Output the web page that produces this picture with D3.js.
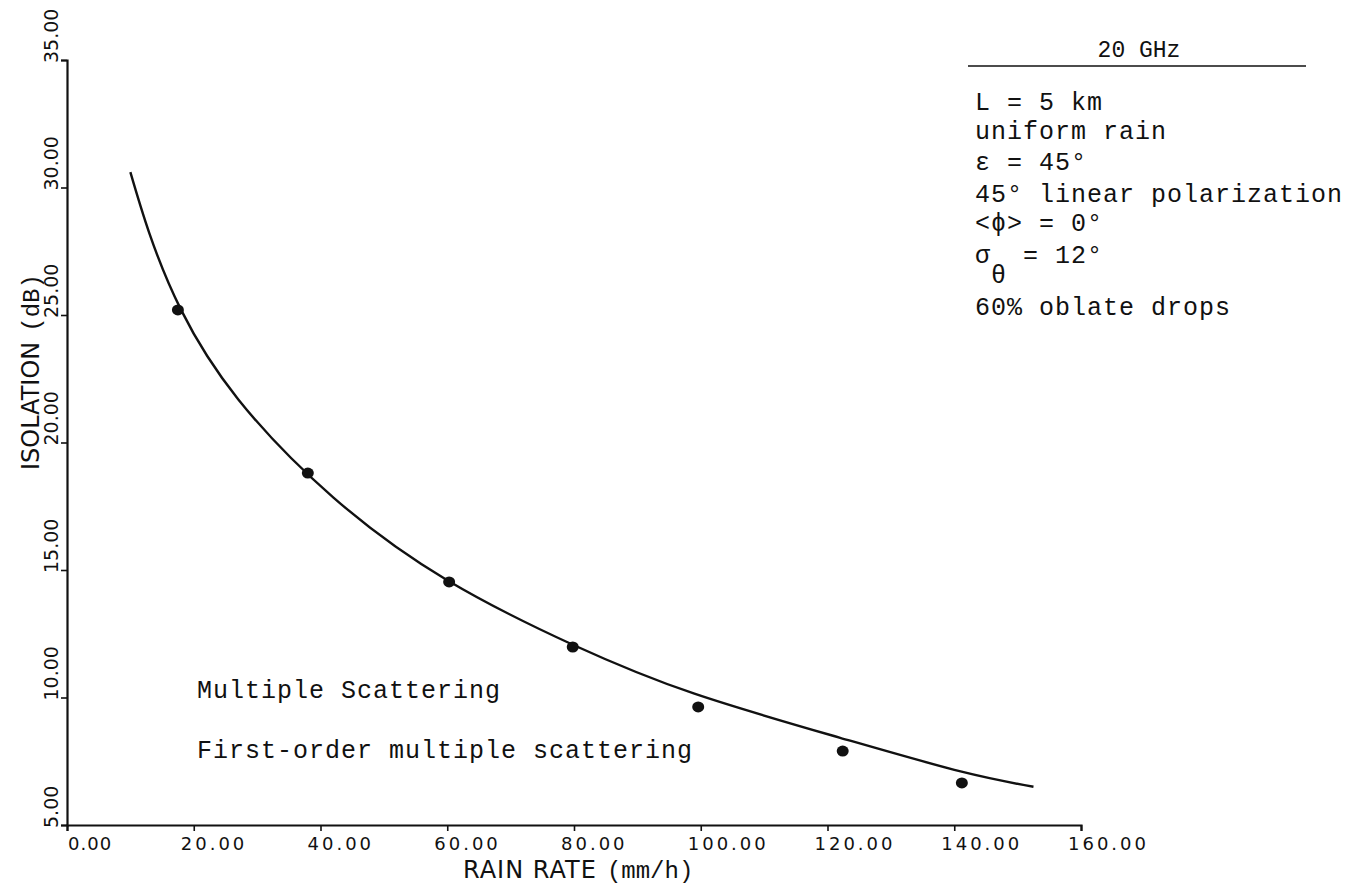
<!DOCTYPE html>
<html>
<head>
<meta charset="utf-8">
<script src="https://cdn.jsdelivr.net/npm/d3@7"></script>
<style>
  body { margin: 0; background: #fff; }
  .plotter { font-family: "DejaVu Sans", sans-serif; fill: #111; }
  .typed { font-family: "Liberation Mono", "DejaVu Sans Mono", monospace; fill: #111; }
</style>
</head>
<body>
<div id="chart"></div>
<script>
// Axis ticks
const xTicks = [0, 20, 40, 60, 80, 100, 120, 140, 160];
const yTicks = [5, 10, 15, 20, 25, 30, 35];

// Fitted curve (rain rate mm/h, isolation dB)
const curveRain = [10, 13, 18, 27, 42, 60, 80, 99, 122, 141, 152.5];
const curveIso  = [30.6, 28.2, 25.2, 21.7, 17.85, 14.6, 12.05, 10.15, 8.42, 7.1, 6.5];

// Computed points (first-order multiple scattering)
const pointRain = [17.5, 38, 60.3, 79.8, 99.6, 122.4, 141.2];
const pointIso  = [25.2, 18.8, 14.53, 11.98, 9.63, 7.9, 6.65];

// Parameter box text
const boxTitle = '20 GHz';
const boxLines = ['L = 5 km', 'uniform rain', 'ε = 45°', '45° linear polarization', '<ϕ> = 0°'];
const lastLine = '60% oblate drops';

const labels = ['Multiple Scattering', 'First-order multiple scattering'];

const width = 1354, height = 886;

const svg = d3.select('#chart')
    .append('svg')
    .attr('width', width)
    .attr('height', height);

const x = d3.scaleLinear().domain([0, 160]).range([67, 1081]);
const y = d3.scaleLinear().domain([5, 35]).range([825, 60]);

// Axes (plain lines with outward ticks, like the plotter output)
const xAxis = svg.append('g')
    .attr('transform', `translate(0,${y(5)})`)
    .call(d3.axisBottom(x).tickValues(xTicks).tickSize(6).tickFormat(''));
const yAxis = svg.append('g')
    .attr('transform', `translate(${x(0)},0)`)
    .call(d3.axisLeft(y).tickValues(yTicks).tickSize(6).tickFormat(''));

[xAxis, yAxis].forEach(g => {
    g.select('.domain').attr('stroke', '#111').attr('stroke-width', 2.2);
    g.selectAll('.tick line').attr('stroke', '#111').attr('stroke-width', 1.6);
});

// X tick labels, started a little before the tick (zero sits on it)
svg.append('g')
    .selectAll('text')
    .data(xTicks)
    .join('text')
    .attr('class', 'plotter')
    .attr('x', d => d === 0 ? x(d) + 1 : x(d) - 13)
    .attr('y', 850)
    .attr('font-size', 18)
    .attr('letter-spacing', d => d === 0 ? 1 : 3)
    .text(d => d.toFixed(2));

// Y tick labels, rotated and starting at the tick
svg.append('g')
    .selectAll('text')
    .data(yTicks)
    .join('text')
    .attr('class', 'plotter')
    .attr('transform', d => `translate(58,${y(d) + 3}) rotate(-90)`)
    .attr('font-size', 19)
    .text(d => d.toFixed(2));

// Axis titles
const xTitle = svg.append('text')
    .attr('x', 463)
    .attr('y', 878);
xTitle.append('tspan')
    .attr('class', 'plotter')
    .attr('font-size', 24)
    .attr('letter-spacing', 1)
    .text('RAIN RATE');
xTitle.append('tspan')
    .attr('class', 'typed')
    .attr('font-size', 24)
    .attr('dx', 10)
    .text('(mm/h)');

const yTitle = svg.append('text')
    .attr('transform', 'translate(39,470) rotate(-90)');
yTitle.append('tspan')
    .attr('class', 'plotter')
    .attr('font-size', 24)
    .text('ISOLATION');
yTitle.append('tspan')
    .attr('class', 'typed')
    .attr('font-size', 24)
    .attr('dx', 10)
    .text('(dB)');

// Fitted curve
const curveData = curveRain.map((r, i) => ({ r, v: curveIso[i] }));
svg.append('path')
    .datum(curveData)
    .attr('fill', 'none')
    .attr('stroke', '#111')
    .attr('stroke-width', 2.4)
    .attr('d', d3.line()
        .x(d => x(d.r))
        .y(d => y(d.v))
        .curve(d3.curveNatural));

// Points
svg.append('g')
    .selectAll('ellipse')
    .data(pointRain.map((r, i) => ({ r, v: pointIso[i] })))
    .join('ellipse')
    .attr('cx', d => x(d.r))
    .attr('cy', d => y(d.v))
    .attr('rx', 6)
    .attr('ry', 5.5)
    .attr('fill', '#111');

// Labels inside the plot
svg.append('g')
    .selectAll('text')
    .data(labels)
    .join('text')
    .attr('class', 'typed')
    .attr('x', 197)
    .attr('y', (d, i) => 698 + i * 60)
    .attr('font-size', 25)
    .attr('letter-spacing', 1)
    .text(d => d);

// Parameter box
svg.append('text')
    .attr('class', 'typed')
    .attr('x', 1139)
    .attr('y', 57)
    .attr('text-anchor', 'middle')
    .attr('font-size', 23)
    .text(boxTitle);

svg.append('line')
    .attr('x1', 968)
    .attr('x2', 1306)
    .attr('y1', 66)
    .attr('y2', 66)
    .attr('stroke', '#111')
    .attr('stroke-width', 1.6);

const boxY = [110, 139, 170, 202, 231];
svg.append('g')
    .selectAll('text')
    .data(boxLines)
    .join('text')
    .attr('class', 'typed')
    .attr('x', 975)
    .attr('y', (d, i) => boxY[i])
    .attr('font-size', 25)
    .attr('letter-spacing', 1)
    .text(d => d);

const sigma = svg.append('text')
    .attr('class', 'typed')
    .attr('x', 975)
    .attr('y', 263)
    .attr('font-size', 25)
    .attr('letter-spacing', 1);
sigma.append('tspan').text('σ');
sigma.append('tspan').attr('dy', 20).text('θ');
sigma.append('tspan').attr('dy', -20).text(' = 12°');

svg.append('text')
    .attr('class', 'typed')
    .attr('x', 975)
    .attr('y', 315)
    .attr('font-size', 25)
    .attr('letter-spacing', 1)
    .text(lastLine);
</script>
</body>
</html>
